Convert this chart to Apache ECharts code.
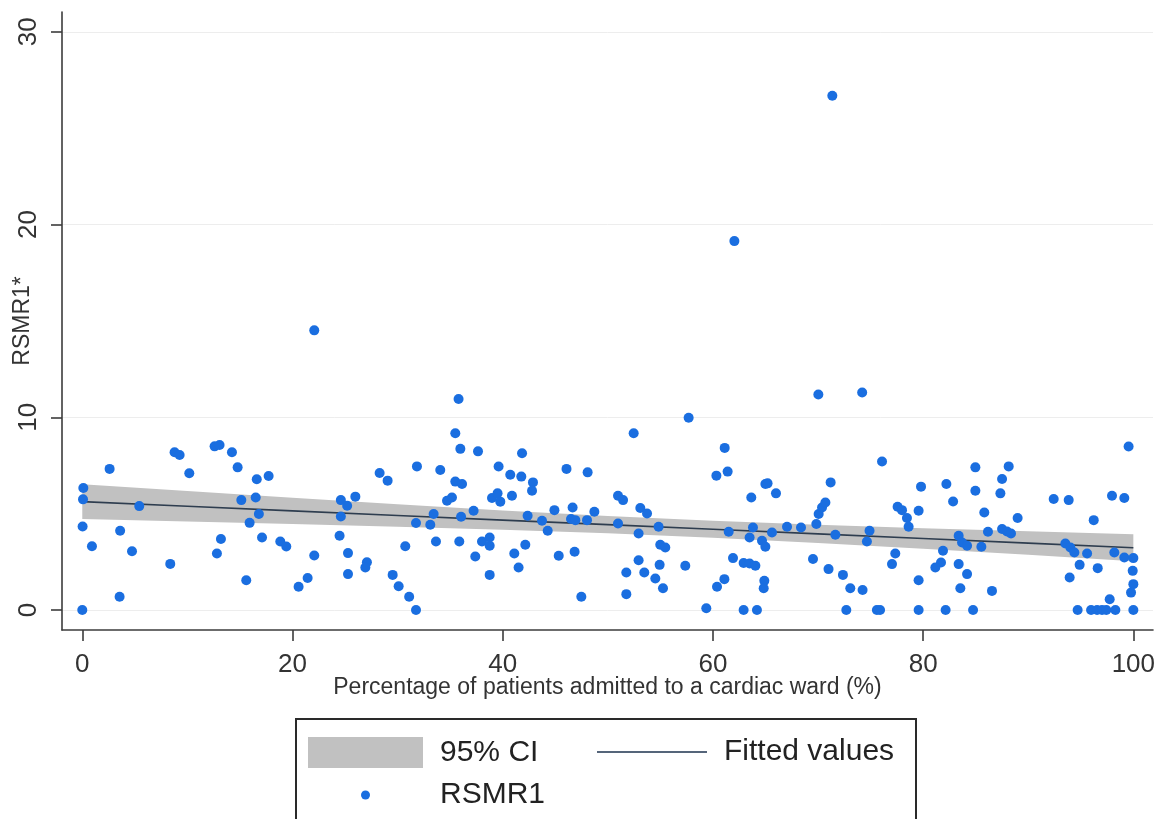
<!DOCTYPE html>
<html><head><meta charset="utf-8">
<script src="https://cdn.jsdelivr.net/npm/echarts@6/dist/echarts.min.js"></script>
<style>html,body{margin:0;padding:0;background:#fff}#c{width:1165px;height:819px}</style>
</head><body><div id="c"></div>
<script>
// ---- data ----
const xTicks = [0, 20, 40, 60, 80, 100];
const yTicks = [0, 10, 20, 30];
const xTitle = 'Percentage of patients admitted to a cardiac ward (%)';
const yTitle = 'RSMR1*';

// fitted line & 95% CI
const fitX  = [0, 10, 20, 30, 40, 50, 60, 70, 80, 90, 100];
const fitY  = [5.62, 5.38, 5.14, 4.90, 4.66, 4.43, 4.19, 3.95, 3.71, 3.47, 3.23];
const ciLow = [4.72, 4.59, 4.46, 4.32, 4.16, 3.98, 3.75, 3.48, 3.18, 2.86, 2.53];
const ciHigh= [6.52, 6.17, 5.82, 5.48, 5.16, 4.88, 4.63, 4.42, 4.24, 4.08, 3.93];

// RSMR1 points: [percentage admitted to cardiac ward, RSMR1]
const rsmr1Points = [
[0.1,6.33],[0.07,5.74],[0.03,4.33],[0,0],[0.92,3.31],[2.6,7.32],[3.6,4.11],[3.55,0.69],[4.73,3.05],[5.42,5.39],
[8.37,2.39],[8.78,8.18],[9.26,8.04],[10.18,7.09],[12.59,8.49],[13.06,8.56],[12.81,2.93],[13.19,3.68],[14.24,8.18],[14.78,7.40],
[15.13,5.70],[15.92,4.52],[15.6,1.54],[16.6,6.78],[16.5,5.84],[16.8,4.98],[17.1,3.76],
[17.73,6.95],[18.84,3.55],[19.41,3.29],[22.07,2.83],[21.44,1.66],[20.58,1.20],[24.6,5.70],[25.2,5.41],[25.98,5.88],
[24.6,4.85],[24.48,3.85],[25.28,2.95],[25.28,1.86],[27.08,2.48],[26.93,2.20],[28.29,7.11],[29.05,6.71],[29.53,1.82],
[30.1,1.23],[31.1,0.69],[31.75,0],[31.84,7.45],[34.06,7.26],[31.75,4.51],[30.73,3.31],[33.43,4.98],[33.11,4.42],
[33.65,3.55],[34.7,5.67],[22.07,14.51],
[35.8,10.95],[35.49,9.17],[35.97,8.36],[37.65,8.23],[35.49,6.66],[36.13,6.54],[35.17,5.84],[37.23,5.15],[36.04,4.84],
[35.87,3.55],[37.39,2.77],[38.03,3.55],[38.76,3.76],[38.76,3.33],[38.76,1.82],[39.61,7.44],[40.72,7.02],[41.84,8.13],
[41.77,6.92],[42.88,6.62],[42.79,6.19],[38.98,5.81],[39.51,6.05],[39.77,5.62],[40.88,5.93],[41.1,2.93],[41.51,2.20],
[42.15,3.38],[42.37,4.89],[43.74,4.63],[44.28,4.11],[44.92,5.18],[45.33,2.81],[46.07,7.32],[46.65,5.32],[46.5,4.72],
[46.91,4.66],[46.84,3.02],[47.48,0.69],[48.08,7.14],[48.02,4.66],[48.72,5.10],[50.97,5.93],[51.45,5.70],[50.97,4.49],
[51.76,1.94],[51.76,0.82],[52.46,9.17],[53.09,5.29],[52.93,3.97],[52.93,2.58],
[57.69,9.97],[53.73,5.01],[53.47,1.94],[54.52,1.63],[55.25,1.13],[54.93,2.34],[54.83,4.32],[54.99,3.38],[55.47,3.24],
[57.37,2.29],[59.37,0.09],[61.12,8.41],[60.33,6.97],[61.4,7.18],[61.5,4.06],[61.91,2.69],[61.09,1.60],[60.39,1.20],
[62.92,2.44],[63.49,2.41],[64.04,2.29],[62.92,0],[64.19,0],[64.89,1.51],[64.83,1.13],[63.49,3.76],[63.81,4.28],
[64.67,3.59],[64.99,3.28],[65.62,4.02],[63.65,5.84],[64.99,6.54],[65.2,6.57],[66.0,6.05],[67.05,4.32],[68.38,4.28],
[69.52,2.64],[69.84,4.46],[70.06,4.98],[70.38,5.32],[70.7,5.58],[71.2,6.62],[71.0,2.12],
[62.04,19.14],[71.36,26.68],[70.03,11.18],[74.2,11.28],
[76.09,7.70],[71.65,3.90],[72.37,1.82],[73.07,1.13],[74.24,1.04],[72.69,0],[75.6,0],[75.9,0],[74.9,4.11],[74.65,3.55],
[77.35,2.93],[77.04,2.38],[77.57,5.36],[77.99,5.18],[78.46,4.77],[78.62,4.32],[79.8,6.40],[79.57,5.15],[79.57,1.54],
[79.57,0],[82.21,6.54],[82.85,5.63],[81.89,3.07],[81.7,2.46],[81.16,2.20],[82.14,0],[83.38,2.38],[84.18,1.86],
[83.54,1.13],[84.75,0],[83.38,3.85],[83.7,3.50],[84.18,3.33],[85.54,3.28],[85.82,5.06],[86.17,4.06],[84.97,7.40],
[84.97,6.19],[87.51,6.80],[87.35,6.05],[88.14,7.45],[86.55,0.99],[87.51,4.20],[87.98,4.07],[88.36,3.97],[88.99,4.77],
[92.42,5.76],[93.85,5.70],[96.23,4.66],[97.97,5.93],[99.14,5.81],[99.55,8.48],[93.53,3.45],[94.01,3.24],[94.39,2.98],
[95.6,2.93],[94.89,2.34],[93.94,1.68],[96.61,2.17],[98.19,2.98],[99.14,2.72],[100,2.69],[99.94,2.03],[100,1.34],
[99.78,0.90],[97.75,0.56],[94.7,0],[95.98,0],[96.55,0],[97.02,0],[97.43,0],[98.29,0],[100,0]
];

// ---- chart ----
const FONT = '"Liberation Sans", Arial, Helvetica, sans-serif';
const AX = '#3c3c3c';
const CI_COLOR = '#c1c1c1';
const FIT_COLOR = '#2e3d4f';
const PT_COLOR = '#1a6ee0';
function legText(padLeft) {
  return {fontSize: 30, color: '#222', fontFamily: FONT, padding: [0, 0, 0, padLeft]};
}

const chart = echarts.init(document.getElementById('c'), null, {renderer: 'canvas'});
chart.setOption({
  animation: false,
  backgroundColor: '#ffffff',
  textStyle: {fontFamily: FONT},
  grid: {left: 62, top: 12, right: 12, bottom: 189, containLabel: false},
  xAxis: {
    type: 'value', min: -1.93, max: 101.87,
    name: xTitle, nameLocation: 'middle', nameGap: 46, nameMoveOverlap: false,
    nameTextStyle: {fontSize: 23, color: '#333', fontFamily: FONT},
    axisLine: {show: true, onZero: false, lineStyle: {color: AX, width: 1.6}},
    axisTick: {show: true, customValues: xTicks, length: 11, lineStyle: {color: AX, width: 1.6}},
    axisLabel: {customValues: xTicks, fontSize: 26, color: '#333', margin: 22, fontFamily: FONT},
    splitLine: {show: false}
  },
  yAxis: {
    type: 'value', min: -1.04, max: 31.03,
    name: yTitle, nameLocation: 'middle', nameGap: 28, nameMoveOverlap: false,
    nameTextStyle: {fontSize: 23, color: '#333', fontFamily: FONT},
    axisLine: {show: true, onZero: false, lineStyle: {color: AX, width: 1.6}},
    axisTick: {show: true, customValues: yTicks, length: 11, lineStyle: {color: AX, width: 1.6}},
    axisLabel: {customValues: yTicks, fontSize: 26, color: '#333', margin: 20, rotate: 90, fontFamily: FONT},
    splitLine: {show: false}
  },
  legend: [
    {data: [{name: '95% CI', icon: 'rect', itemStyle: {color: CI_COLOR, borderWidth: 0}}],
     left: 308, top: 737, padding: 0, itemWidth: 115, itemHeight: 31, symbolKeepAspect: false,
     selectedMode: false, textStyle: legText(12)},
    {data: [{name: 'Fitted values', icon: 'rect', itemStyle: {color: '#55657a', borderWidth: 0}}],
     left: 597, top: 737, padding: 0, itemWidth: 110, itemHeight: 2, symbolKeepAspect: false,
     selectedMode: false, textStyle: legText(12)},
    {data: [{name: 'RSMR1', icon: 'circle', itemStyle: {color: PT_COLOR, borderWidth: 0}}],
     left: 361, top: 780, padding: 0, itemWidth: 9, itemHeight: 9, symbolKeepAspect: true,
     selectedMode: false, textStyle: legText(65)}
  ],
  graphic: [{
    type: 'rect', left: 295, top: 718, silent: true,
    shape: {width: 620, height: 140},
    style: {fill: 'transparent', stroke: '#2a2a2a', lineWidth: 2}
  }],
  series: [
    {
      name: '95% CI', type: 'custom', silent: true, z: 1,
      data: fitX.map((x, i) => [x, ciLow[i], ciHigh[i]]),
      encode: {x: 0, y: [1, 2]},
      itemStyle: {color: CI_COLOR},
      renderItem: function (params, api) {
        if (params.dataIndex !== 0) return null;
        const pts = [];
        for (let i = 0; i < fitX.length; i++) pts.push(api.coord([fitX[i], ciHigh[i]]));
        for (let i = fitX.length - 1; i >= 0; i--) pts.push(api.coord([fitX[i], ciLow[i]]));
        return {type: 'polygon', shape: {points: pts}, style: {fill: CI_COLOR, stroke: null}};
      },
      markLine: {
        silent: true, symbol: ['none', 'none'], label: {show: false}, z: 0,
        lineStyle: {color: '#ededed', type: 'solid', width: 1},
        data: yTicks.map(v => ({yAxis: v}))
      }
    },
    {
      name: 'Fitted values', type: 'line', symbol: 'none', z: 3,
      data: fitX.map((x, i) => [x, fitY[i]]),
      lineStyle: {color: FIT_COLOR, width: 1.6},
      itemStyle: {color: FIT_COLOR}
    },
    {
      name: 'RSMR1', type: 'scatter', symbol: 'circle', symbolSize: 10, z: 4,
      data: rsmr1Points,
      itemStyle: {color: PT_COLOR, opacity: 1}
    }
  ]
});
</script>
</body></html>
